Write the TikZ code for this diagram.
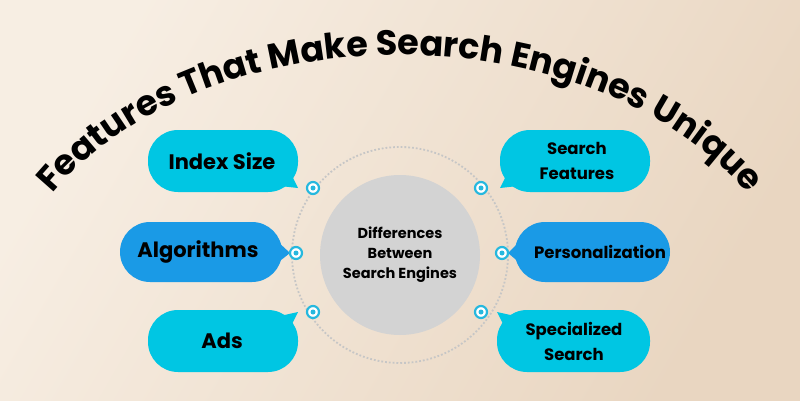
\documentclass[tikz,border=0pt]{standalone}
\usepackage{fontspec}
\setmainfont{Poppins}
\usetikzlibrary{decorations.text}
\definecolor{bgA}{HTML}{F7EEE3}
\definecolor{bgB}{HTML}{E9D6C1}
\definecolor{cyanb}{HTML}{00C6E3}
\definecolor{blueb}{HTML}{1A9AE6}
\definecolor{ringc}{HTML}{26B8DE}
\definecolor{centc}{HTML}{D3D3D3}
\begin{document}
\begin{tikzpicture}[x=1pt,y=1pt,
  bub/.style={rounded corners=30pt},
  btxt/.style={font=\fontsize{21}{25}\selectfont\bfseries, align=center, text=black},
  rtxt/.style={font=\fontsize{16.5}{25}\selectfont\bfseries, align=center, text=black},
  dotc/.style={circle, draw=ringc, line width=2.2pt, fill=white, minimum size=12pt, inner sep=0pt,
     append after command={node[circle, fill=ringc, minimum size=5pt, inner sep=0pt] at (\tikzlastnode.center) {}}}]
\useasboundingbox (0,0) rectangle (800,400);
\shade[left color=bgA, right color=bgB, shading angle=60] (0,0) rectangle (800,400);
% title
\path[decorate, decoration={text along path, text align={align=center},
  text={|\fontsize{35}{40}\selectfont\bfseries|Features That Make Search Engines Unique}}]
  (400,70) ++(153:400 and 275) arc[start angle=153, end angle=27, x radius=400, y radius=275];
% center
\draw[gray!45, dotted, line width=1.8pt] (400,145) circle (108);
\node[circle, fill=centc, minimum size=160pt, inner sep=0pt, font=\fontsize{14.5}{20}\selectfont\bfseries, align=center] (c) at (400,145) {Differences\\Between\\Search Engines};
% bubbles left
\fill[cyanb, bub] (148,208) rectangle (298,270);
\fill[cyanb] (280,214) -- (298,212) -- (290,228) -- cycle;
\node[btxt] (n1) at (222,239) {Index Size};
\fill[blueb, bub] (120,118) rectangle (282,178);
\fill[blueb] (276,136) -- (290,147) -- (276,160) -- cycle;
\node[btxt] (n2) at (198,148) {Algorithms};
\fill[cyanb, bub] (148,28) rectangle (298,90);
\fill[cyanb] (280,84) -- (298,88) -- (290,72) -- cycle;
\node[btxt] (n3) at (222,59) {Ads};
% bubbles right
\fill[cyanb, bub] (500,208) rectangle (650,270);
\fill[cyanb] (518,214) -- (500,212) -- (508,228) -- cycle;
\node[rtxt] (n4) at (577,239) {Search\\Features};
\fill[blueb, bub] (515,118) rectangle (670,178);
\fill[blueb] (521,136) -- (508,147) -- (521,160) -- cycle;
\node[rtxt] (n5) at (600,148) {Personalization};
\fill[cyanb, bub] (497,28) rectangle (650,90);
\fill[cyanb] (515,84) -- (497,88) -- (505,72) -- cycle;
\node[rtxt] (n6) at (574,59) {Specialized\\Search};
% dots
\node[dotc] (d1) at (313,212) {};
\node[dotc] (d2) at (296,147) {};
\node[dotc] (d3) at (313,88) {};
\node[dotc] (d4) at (481,212) {};
\node[dotc] (d5) at (502,147) {};
\node[dotc] (d6) at (481,88) {};
\end{tikzpicture}
\end{document}
